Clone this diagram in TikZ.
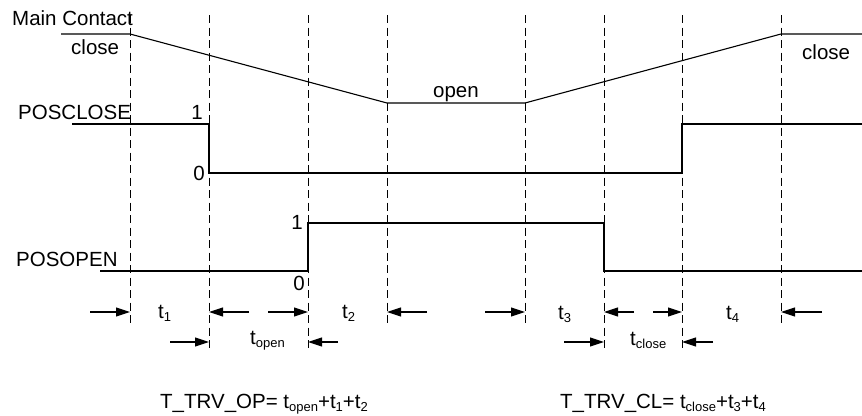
\documentclass[tikz,border=0pt]{standalone}
\usepackage{fontspec}
\setmainfont{Liberation Sans}
\usetikzlibrary{arrows.meta}
\newcommand\mysub[1]{\raisebox{-0.3ex}{\fontsize{13}{13}\selectfont #1}}
\begin{document}
\begin{tikzpicture}[x=1pt,y=-1pt,
  sig/.style={line width=1.1pt, line join=miter},
  guide/.style={line width=0.9pt, dash pattern=on 8pt off 4.5pt},
  dim/.style={line width=1.1pt, -{Triangle[length=14pt,width=9pt]}},
  lbl/.style={inner sep=0pt, font=\fontsize{20.5}{24}\selectfont},
]
\useasboundingbox (0,0) rectangle (862,415);

% dashed guide lines
\foreach \n/\x/\b in {a/130/325, b/209/352, c/308/352, d/387/325, e/525/325, f/604/352, g/682/352, h/781/325} {
  \coordinate (\n-top) at (\x,15);
  \coordinate (\n-bot) at (\x,\b);
  \draw[guide] (\n-top) -- (\n-bot);
}

% signals
\draw[sig] (61,34) -- (130,34) -- (387,103) -- (525,103) -- (781,34) -- (862,34);
\draw[sig] (72,124) -- (209,124) -- (209,173) -- (682,173) -- (682,124) -- (862,124);
\draw[sig] (100,271) -- (308,271) -- (308,223) -- (604,223) -- (604,271) -- (862,271);

% labels
\node[lbl, anchor=base west] (mc) at (12,25) {Main Contact};
\node[lbl, anchor=base west] (cl1) at (71,54) {close};
\node[lbl, anchor=base] (op) at (456,97) {open};
\node[lbl, anchor=base west] (cl2) at (802,59) {close};
\node[lbl, anchor=base west] (pc) at (18,119) {POSCLOSE};
\node[lbl, anchor=base east] (pc1) at (203,119) {1};
\node[lbl, anchor=base east] (pc0) at (205,180) {0};
\node[lbl, anchor=base west] (po) at (16,266) {POSOPEN};
\node[lbl, anchor=base east] (po1) at (303,229) {1};
\node[lbl, anchor=base east] (po0) at (305,290) {0};

% dimension arrows, row 1
\coordinate (s1) at (90,312);
\coordinate (s2) at (249,312);
\coordinate (s3) at (268,312);
\coordinate (s4) at (427,312);
\coordinate (s5) at (485,312);
\coordinate (s6) at (634,312);
\coordinate (s7) at (653,312);
\coordinate (s8) at (822,312);
\draw[dim] (s1) -- (a-top |- s1);
\draw[dim] (s2) -- (b-top |- s2);
\draw[dim] (s3) -- (c-top |- s3);
\draw[dim] (s4) -- (d-top |- s4);
\draw[dim] (s5) -- (e-top |- s5);
\draw[dim] (s6) -- (f-top |- s6);
\draw[dim] (s7) -- (g-top |- s7);
\draw[dim] (s8) -- (h-top |- s8);
% row 2
\coordinate (r1) at (170,342);
\coordinate (r2) at (338,342);
\coordinate (r3) at (564,342);
\coordinate (r4) at (713,342);
\draw[dim] (r1) -- (b-top |- r1);
\draw[dim] (r2) -- (c-top |- r2);
\draw[dim] (r3) -- (f-top |- r3);
\draw[dim] (r4) -- (g-top |- r4);

\node[lbl, anchor=base west] (t1) at (158,318) {t\mysub{1}};
\node[lbl, anchor=base west] (t2) at (342,318) {t\mysub{2}};
\node[lbl, anchor=base west] (t3) at (558,319) {t\mysub{3}};
\node[lbl, anchor=base west] (t4) at (726,319) {t\mysub{4}};
\node[lbl, anchor=base west] (topen) at (250,344) {t\mysub{open}};
\node[lbl, anchor=base west] (tclose) at (630,345) {t\mysub{close}};

\node[lbl, anchor=base west] (fop) at (160,408) {T\_TRV\_OP= t\mysub{open}+t\mysub{1}+t\mysub{2}};
\node[lbl, anchor=base west] (fcl) at (560,408) {T\_TRV\_CL= t\mysub{close}+t\mysub{3}+t\mysub{4}};
\end{tikzpicture}
\end{document}
